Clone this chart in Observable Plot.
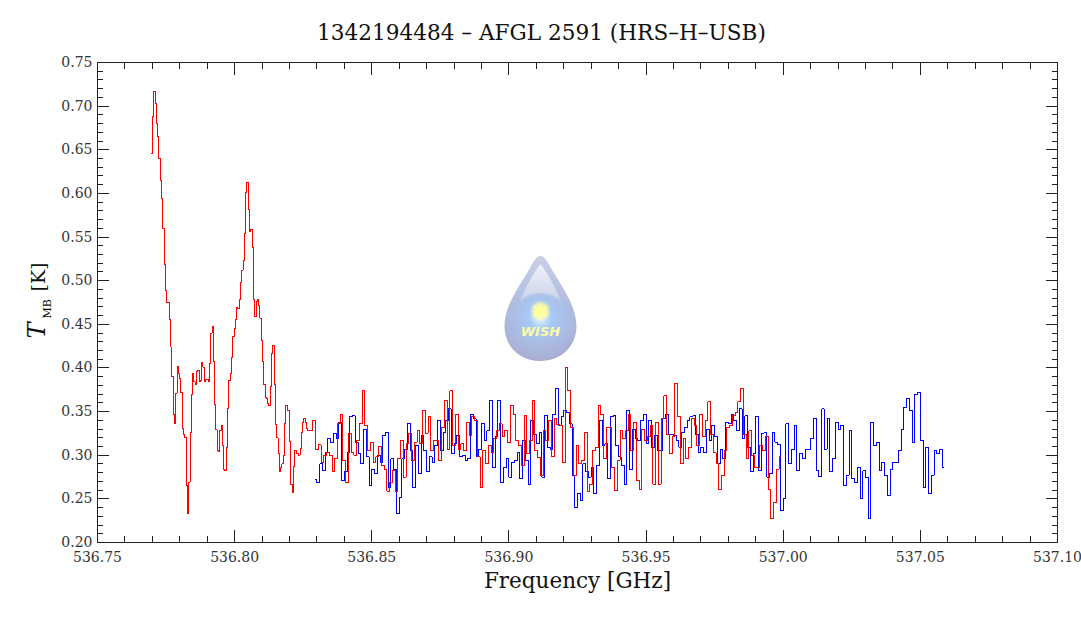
<!DOCTYPE html>
<html><head><meta charset="utf-8">
<style>html,body{margin:0;padding:0;background:#fff;overflow:hidden}svg{display:block}</style>
<script src="https://cdn.jsdelivr.net/npm/d3@7"></script>
<script src="https://cdn.jsdelivr.net/npm/@observablehq/plot@0.6"></script>
</head><body><div id="chart"></div>
<script>
const titleText = "1342194484 – AFGL 2591 (HRS–H–USB)";
const xLabel = "Frequency [GHz]";
const xMajor = [536.75,536.80,536.85,536.90,536.95,537.00,537.05,537.10];
const xMinor = d3.range(0,36).map(i=>+(536.75+i*0.01).toFixed(2));
const yMajor = [0.20,0.25,0.30,0.35,0.40,0.45,0.50,0.55,0.60,0.65,0.70,0.75];
const yMinor = d3.range(0,56).map(i=>+(0.20+i*0.01).toFixed(2));

// red: fine channels across the two lines
const redStart = 536.7698;
const redFineStep = 0.000472;
const redFineT = [.646,.688,.717,.703,.680,.665,.640,.615,.594,.560,.519,.489,.475,.475,.456,.424,.390,.347,.336,.371,.402,.394,.388,.372,.331,.324,.320,.265,.233,.269,.326,.370,.394,.384,.381,.396,.397,.384,.386,.406,.401,.384,.387,.387,.384,.405,.440,.447,.407,.358,.329,.305,.304,.328,.334,.311,.284,.282,.309,.353,.386,.394,.412,.436,.445,.456,.469,.468,.478,.498,.512,.523,.554,.601,.613,.582,.556,.559,.538,.479,.459,.476,.478,.471,.457,.431,.407,.381,.366,.365,.359,.357,.379,.417,.426,.381,.335,.320,.302,.281,.286,.290,.300,.336,.357,.351,.351,.316,.266,.257,.287,.305,.302,.302,.300,.308,.326,.337,.342,.337,.331,.328];
// red: noise, 0.001 GHz spacing
const redNoiseStart = 536.828;
const redNoiseT = [.328,.340,.306,.312,.292,.300,.303,.300,.281,.296,.336,.347,.294,.269,.325,.303,.300,.317,.336,.374,.334,.305,.315,.292,.298,.310,.288,.284,.259,.269,.283,.258,.296,.317,.275,.313,.325,.294,.315,.328,.313,.351,.325,.344,.305,.317,.317,.294,.332,.363,.307,.374,.311,.347,.307,.313,.305,.338,.323,.344,.340,.298,.263,.305,.290,.311,.303,.319,.328,.336,.321,.328,.315,.357,.347,.317,.311,
.288,.346,.302,.317,.363,.305,.297,.277,.328,.317,.340,.298,.342,.335,.334,.292,.401,.374,.332,.277,.311,.290,.294,.326,.258,.267,.305,.309,.357,.347,.296,.332,.332,.286,.260,.294,.328,.319,.328,.347,.305,.338,.271,.261,.330,.317,.321,.334,.267,.338,.267,.342,.368,.324,.302,.321,.382,.344,.290,.319,.296,.309,.342,.334,.311,.347,.321,.340,.361,.324,.303,.290,.261,.277,.305,.332,
.334,.345,.349,.361,.376,.324,.296,.328,.300,.286,.286,.311,.305,.322,.261,.227,.246,.284,.299];
// blue: 0.001 GHz spacing
const blueStart = 536.8295;
const blueT = [.272,.269,.290,.282,.303,.319,.315,.325,.319,.338,.271,.281,.303,.344,.345,.315,.302,.290,.330,.298,.265,.284,.279,.300,.292,.323,.326,.263,.296,.284,.233,.252,.296,.307,.336,.305,.263,.311,.279,.323,.305,.281,.298,.292,.311,.340,.305,.326,.340,.353,.302,.313,.323,.298,.300,.294,.296,.347,.342,.298,.307,.336,.317,.328,.363,.286,.321,.363,.269,.286,.296,.275,.292,.294,.303,
.273,.317,.294,.267,.340,.324,.313,.326,.275,.346,.309,.307,.347,.376,.334,.344,.351,.349,.336,.277,.240,.256,.248,.290,.281,.275,.286,.256,.288,.340,.311,.313,.273,.344,.346,.311,.298,.288,.267,.351,.284,.330,.319,.317,.340,.347,.313,.340,.309,.323,.305,.305,.342,.347,.324,.324,.323,.317,.309,.326,.332,.340,.344,.345,.324,.303,.309,.303,.330,.317,.334,.321,.290,.307,.296,.338,
.336,.347,.340,.328,.353,.319,.345,.309,.281,.302,.344,.282,.325,.326,.275,.279,.326,.315,.312,.237,.250,.336,.290,.307,.334,.282,.302,.296,.307,.307,.319,.342,.282,.276,.353,.307,.342,.281,.296,.338,.330,.334,.265,.277,.328,.273,.269,.286,.250,.282,.275,.227,.338,.311,.315,.282,.292,.277,.254,.284,.292,.292,.305,.330,.355,.365,.351,.315,.370,.372,.317,.263,.309,.256,.277,.305,.302,.307,.286];

const red = [
  ...redFineT.map((t,i)=>({f:redStart+i*redFineStep,t})),
  ...redNoiseT.map((t,i)=>({f:redNoiseStart+i*0.001,t}))
];
const blue = blueT.map((t,i)=>({f:blueStart+i*0.001,t}));

const logoSvg = `<svg xmlns="http://www.w3.org/2000/svg" width="74" height="107" viewBox="0 0 74 107">
<defs>
<linearGradient id="b" x1="0" y1="0" x2="0" y2="1"><stop offset="0" stop-color="#c8d0e6"/><stop offset=".5" stop-color="#aebbe0"/><stop offset="1" stop-color="#a9acd0"/></linearGradient>
<linearGradient id="h" x1="0" y1="0" x2="0" y2="1"><stop offset="0" stop-color="#eef1f8"/><stop offset="1" stop-color="#c6d0e8"/></linearGradient>
<radialGradient id="g" cx=".5" cy=".38" r=".6"><stop offset="0" stop-color="#e8f6ff"/><stop offset=".28" stop-color="#a6cbf6"/><stop offset="1" stop-color="#adb6dd" stop-opacity=".45"/></radialGradient>
<radialGradient id="s" cx=".5" cy=".5" r=".5"><stop offset="0" stop-color="#ffffcc"/><stop offset=".6" stop-color="#ffffaa" stop-opacity=".8"/><stop offset="1" stop-color="#ffffaa" stop-opacity="0"/></radialGradient>
</defs>
<path d="M37 1 C33 1 31 5 27 12 C17 30 1 50 1 71 C1 92 17 106 37 106 C57 106 73 92 73 71 C73 50 57 30 47 12 C43 5 41 1 37 1 Z" fill="url(#b)"/>
<path d="M37 9 C30 18 19 37 16 49 C26 37 48 37 58 49 C55 37 44 18 37 9 Z" fill="url(#h)"/>
<ellipse cx="37" cy="71" rx="33" ry="33" fill="url(#g)"/>
<circle cx="37" cy="56" r="11" fill="url(#s)"/>
<path d="M37 47 L39 53 L45 50 L41 56 L45 62 L39 59 L37 65 L35 59 L29 62 L33 56 L29 50 L35 53 Z" fill="#ffff99"/>
</svg>`;
const logo = "data:image/svg+xml;charset=utf-8," + encodeURIComponent(logoSvg);

const serif = "DejaVu Serif";
const ink = "#222";
const chart = Plot.plot({
  width: 1081, height: 618,
  marginLeft: 97, marginRight: 24, marginTop: 62, marginBottom: 76,
  style: {background: "#fff", fontFamily: serif, color: ink},
  x: {domain: [536.75, 537.10], label: null},
  y: {domain: [0.20, 0.75], label: null},
  marks: [
    Plot.image([{f:536.9115,t:0.4681}], {x:"f", y:"t", src:()=>logo, width:74, height:107}),
    Plot.text(["WISH"], {x:()=>536.9115, y:()=>0.4418, text:d=>d, fill:"#fbfba8", fontSize:13, fontWeight:"bold", fontStyle:"italic", fontFamily:"DejaVu Sans"}),
    Plot.line(blue, {x:"f", y:"t", curve:"step", stroke:"#0000ff", strokeWidth:1, shapeRendering:"crispEdges"}),
    Plot.line(red, {x:"f", y:"t", curve:"step", stroke:"#ff0000", strokeWidth:1, shapeRendering:"crispEdges"}),
    Plot.axisX({anchor:"bottom", ticks:xMinor, tickSize:-6, text:null, label:null, stroke:ink, shapeRendering:"crispEdges"}),
    Plot.axisX({anchor:"top", ticks:xMinor, tickSize:-6, text:null, label:null, stroke:ink, shapeRendering:"crispEdges"}),
    Plot.axisX({anchor:"bottom", ticks:xMajor, tickSize:-12, tickFormat:d3.format(".2f"), tickPadding:22, fontSize:14, fill:"#333", label:null, stroke:ink, shapeRendering:"crispEdges"}),
    Plot.axisX({anchor:"top", ticks:xMajor, tickSize:-12, text:null, label:null, stroke:ink, shapeRendering:"crispEdges"}),
    Plot.axisY({anchor:"left", ticks:yMinor, tickSize:-6, text:null, label:null, stroke:ink, shapeRendering:"crispEdges"}),
    Plot.axisY({anchor:"right", ticks:yMinor, tickSize:-6, text:null, label:null, stroke:ink, shapeRendering:"crispEdges"}),
    Plot.axisY({anchor:"left", ticks:yMajor, tickSize:-12, tickFormat:d3.format(".2f"), tickPadding:17, fontSize:14, fill:"#333", label:null, stroke:ink, shapeRendering:"crispEdges"}),
    Plot.axisY({anchor:"right", ticks:yMajor, tickSize:-12, text:null, label:null, stroke:ink, shapeRendering:"crispEdges"}),
    Plot.frame({stroke:ink, shapeRendering:"crispEdges"}),
    Plot.text([titleText], {text:d=>d, frameAnchor:"top", dy:-38, dx:-36, fontSize:21.6, fill:"#111", fontFamily:serif}),
    Plot.text([xLabel], {text:d=>d, frameAnchor:"bottom", dy:45, fontSize:21.5, fill:"#111", fontFamily:serif}),
    Plot.text(["T"], {text:d=>d, frameAnchor:"left", dx:-60, dy:36, rotate:-90, fontSize:24, fontStyle:"italic", fill:"#111", fontFamily:serif}),
    Plot.text(["MB"], {text:d=>d, frameAnchor:"left", dx:-50, dy:16, rotate:-90, fontSize:11, fill:"#111", fontFamily:serif}),
    Plot.text(["[K]"], {text:d=>d, frameAnchor:"left", dx:-58.5, dy:-11, rotate:-90, fontSize:19, fill:"#111", fontFamily:serif})
  ]
});
document.getElementById("chart").appendChild(chart);
</script></body></html>
